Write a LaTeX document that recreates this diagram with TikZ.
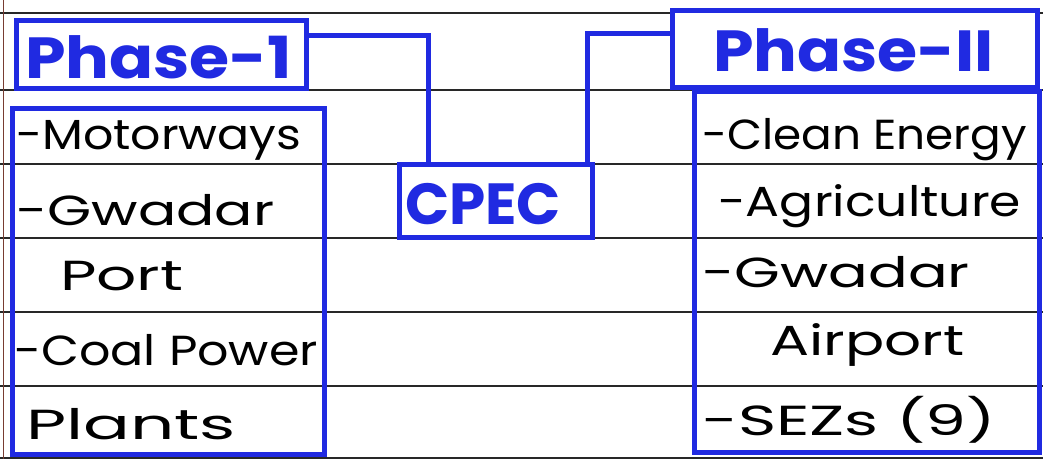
\documentclass[tikz,border=0pt]{standalone}
\usepackage{fontspec}
\setmainfont{Poppins}
\definecolor{pen}{RGB}{32,42,225}
\definecolor{rule}{RGB}{40,40,40}
\definecolor{margin}{RGB}{120,60,50}
\newcommand{\sx}[2]{\scalebox{#1}[1]{#2}}
\begin{document}
\begin{tikzpicture}[x=1pt,y=-1pt,
  penbox/.style={draw=pen,line width=5pt,rectangle,inner sep=0pt},
  conn/.style={draw=pen,line width=5pt},
  head/.style={text=pen,font=\fontsize{58}{58}\selectfont\bfseries,inner sep=0pt},
  item/.style={text=black,font=\fontsize{42}{42}\selectfont,inner sep=0pt,anchor=west},
  ruled/.style={draw=rule,line width=1.3pt}]
\useasboundingbox (0,0) rectangle (1043,459);
\fill[white] (0,0) rectangle (1043,459);
% ruled lines
\foreach \yy in {13,90,164,238,312,386,458}
  \draw[ruled] (0,\yy) -- (1043,\yy);
\draw[margin,line width=1pt] (3,0) -- (3,459);
% boxes
\node[penbox,minimum width=290pt,minimum height=68pt,fill=white] (p1) at (161,54) {};
\node[penbox,minimum width=312pt,minimum height=346pt] (p1items) at (168,281) {};
\node[penbox,minimum width=193pt,minimum height=73pt,fill=white] (cpec) at (496,201) {};
\node[penbox,minimum width=365pt,minimum height=77pt,fill=white] (p2) at (855,49) {};
\node[penbox,minimum width=345pt,minimum height=361pt] (p2items) at (867,272) {};
% connectors
\coordinate (c1) at (428,35);
\coordinate (c2) at (587,33);
\draw[conn] (p1.east |- c1) -- (c1) -- (c1 |- cpec.north);
\draw[conn] (c2 |- cpec.north) -- (c2) -- (c2 -| p2.west);
% headings
\node[head,anchor=west] (t1) at (25,57) {\sx{1.12}{Phase-1}};
\node[head,anchor=west] (t2) at (713,50) {\sx{1.12}{Phase-II}};
\node[head,anchor=west] (t3) at (405,204) {CPEC};
% left items
\node[item] (l1) at (16,140) {\sx{1.13}{-Motorways}};
\node[item] (l2) at (16,210) {\sx{1.35}{-Gwadar}};
\node[item] (l3) at (60,276) {\sx{1.5}{Port}};
\node[item] (l4) at (14,350) {\sx{1.17}{-Coal Power}};
\node[item] (l5) at (26,424) {\sx{1.65}{Plants}};
% right items
\node[item] (r1) at (702,140) {\sx{1.08}{-Clean Energy}};
\node[item] (r2) at (718,206) {\sx{1.2}{-Agriculture}};
\node[item] (r3) at (702,272) {\sx{1.4}{-Gwadar}};
\node[item] (r4) at (770,345) {\sx{1.38}{Airport}};
\node[item] (r5) at (702,420) {\sx{1.55}{-SEZs (9)}};
\end{tikzpicture}
\end{document}
